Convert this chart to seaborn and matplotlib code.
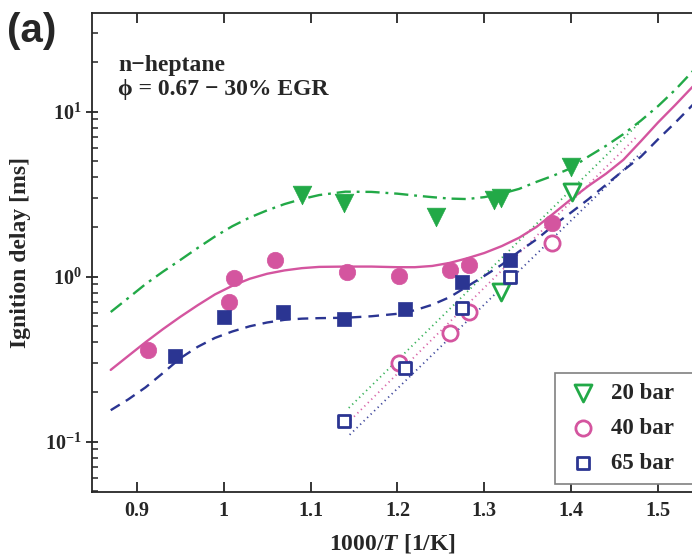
import numpy as np
import pandas as pd
import matplotlib
matplotlib.use("Agg")
import matplotlib.pyplot as plt
import matplotlib.ticker as mticker
import seaborn as sns

# ---- model curves (1000/T, ignition delay in ms) ----
x_model = [0.87, 0.89, 0.91, 0.93, 0.95, 0.97, 0.99, 1.01, 1.03, 1.05, 1.07, 1.09,
           1.11, 1.14, 1.17, 1.20, 1.22, 1.24, 1.26, 1.28, 1.30, 1.32, 1.34, 1.36,
           1.38, 1.40, 1.42, 1.44, 1.46, 1.48, 1.50, 1.52, 1.54]
tau_model_20 = [0.61, 0.74, 0.90, 1.07, 1.26, 1.49, 1.75, 2.02, 2.28, 2.52, 2.75, 2.95,
                3.12, 3.27, 3.26, 3.18, 3.10, 3.03, 2.97, 2.95, 3.03, 3.18, 3.40, 3.75,
                4.10, 4.55, 5.35, 6.20, 7.30, 8.80, 10.8, 13.6, 17.6]
tau_model_40 = [0.272, 0.33, 0.40, 0.48, 0.57, 0.67, 0.78, 0.88, 0.97, 1.04, 1.09, 1.125,
                1.145, 1.15, 1.15, 1.14, 1.14, 1.16, 1.21, 1.29, 1.39, 1.53, 1.72, 2.00,
                2.42, 2.95, 3.55, 4.20, 5.10, 6.60, 8.60, 11.0, 14.2]
tau_model_65 = [0.155, 0.18, 0.213, 0.26, 0.32, 0.375, 0.425, 0.465, 0.50, 0.527, 0.547, 0.556,
                0.56, 0.563, 0.575, 0.595, 0.625, 0.675, 0.75, 0.87, 1.01, 1.18, 1.42, 1.68,
                2.05, 2.45, 2.95, 3.60, 4.40, 5.32, 6.80, 8.60, 11.0]

# ---- Arrhenius fits to the low-temperature data (dotted) ----
x_fit_20 = [1.144, 1.48]
tau_fit_20 = [0.16, 8.7]
x_fit_40 = [1.146, 1.475]
tau_fit_40 = [0.135, 7.0]
x_fit_65 = [1.145, 1.48]
tau_fit_65 = [0.11, 5.6]

# ---- shock tube data (filled symbols) ----
x_st_20 = [1.090, 1.138, 1.244, 1.311, 1.319, 1.400]
tau_st_20 = [3.12, 2.78, 2.30, 2.91, 2.98, 4.63]
x_st_40 = [0.913, 1.006, 1.012, 1.059, 1.142, 1.202, 1.261, 1.282, 1.378]
tau_st_40 = [0.358, 0.704, 0.975, 1.26, 1.07, 1.01, 1.095, 1.17, 2.12]
x_st_65 = [0.944, 1.000, 1.068, 1.138, 1.209, 1.274, 1.329]
tau_st_65 = [0.331, 0.571, 0.612, 0.553, 0.633, 0.93, 1.26]

# ---- rapid compression machine data (open symbols) ----
x_rcm_20 = [1.319, 1.401]
tau_rcm_20 = [0.809, 3.26]
x_rcm_40 = [1.202, 1.261, 1.282, 1.378]
tau_rcm_40 = [0.30, 0.456, 0.612, 1.60]
x_rcm_65 = [1.138, 1.209, 1.274, 1.329]
tau_rcm_65 = [0.134, 0.278, 0.647, 1.00]

labels = ["20 bar", "40 bar", "65 bar"]
colors = ["#22a947", "#d4559f", "#2b3592"]
markers = ["v", "o", "s"]
sizes = [180, 140, 100]
open_sizes = [150, 120, 85]
model_styles = [(0, (6, 2.5, 1.2, 2.5)), "-", (0, (4.5, 3))]

sns.set_style("ticks")
plt.rcParams.update({
    "font.family": ["Liberation Serif", "DejaVu Serif"],
    "font.weight": "bold",
    "mathtext.fontset": "custom",
    "mathtext.rm": "Liberation Serif:bold",
    "mathtext.bf": "Liberation Serif:bold",
    "mathtext.it": "Liberation Serif:italic:bold",
    "mathtext.default": "bf",
    "axes.linewidth": 1.3,
})

fig = plt.figure(figsize=(6.92, 5.55), dpi=100)
ax = fig.add_axes([92.3 / 692, 1 - 492.3 / 555, (692 - 92.3) / 692, (492.3 - 13.3) / 555])

models = [tau_model_20, tau_model_40, tau_model_65]
fits = [(x_fit_20, tau_fit_20), (x_fit_40, tau_fit_40), (x_fit_65, tau_fit_65)]
shock = [(x_st_20, tau_st_20), (x_st_40, tau_st_40), (x_st_65, tau_st_65)]
rcm = [(x_rcm_20, tau_rcm_20), (x_rcm_40, tau_rcm_40), (x_rcm_65, tau_rcm_65)]

for i in range(3):
    c = colors[i]
    dm = pd.DataFrame({"x": x_model, "tau": models[i]})
    sns.lineplot(data=dm, x="x", y="tau", ax=ax, color=c, lw=1.7,
                 linestyle=model_styles[i], sort=False, estimator=None, zorder=2)
    df = pd.DataFrame({"x": fits[i][0], "tau": fits[i][1]})
    sns.lineplot(data=df, x="x", y="tau", ax=ax, color=c, lw=1.3,
                 linestyle=(0, (0.7, 2.0)), sort=False, estimator=None, zorder=1, alpha=0.9)

for i in range(3):
    c = colors[i]
    ds = pd.DataFrame({"x": shock[i][0], "tau": shock[i][1]})
    sns.scatterplot(data=ds, x="x", y="tau", ax=ax, marker=markers[i], s=sizes[i],
                    color=c, edgecolor=c, linewidth=0.5, zorder=4)
    dr = pd.DataFrame({"x": rcm[i][0], "tau": rcm[i][1]})
    sns.scatterplot(data=dr, x="x", y="tau", ax=ax, marker=markers[i], s=open_sizes[i],
                    facecolor="white", edgecolor=c, linewidth=2.0, zorder=5,
                    label=labels[i])

ax.set_yscale("log")
ax.set_xlim(0.8488, 1.539)
ax.set_ylim(0.0493, 39.4)

ax.xaxis.set_major_locator(mticker.FixedLocator([0.9, 1.0, 1.1, 1.2, 1.3, 1.4, 1.5]))
ax.xaxis.set_major_formatter(mticker.FuncFormatter(lambda v, p: f"{v:g}"))
ax.yaxis.set_major_locator(mticker.LogLocator(base=10))
ax.yaxis.set_minor_locator(mticker.LogLocator(base=10, subs=np.arange(2, 10)))
ax.yaxis.set_minor_formatter(mticker.NullFormatter())
ax.yaxis.set_major_formatter(mticker.LogFormatterMathtext())

ax.tick_params(axis="x", which="major", direction="in", length=7, width=1.3,
               top=True, labelsize=14.5, pad=6)
ax.tick_params(axis="y", which="major", direction="inout", length=9, width=1.3,
               labelsize=14.5, pad=3)
ax.tick_params(axis="y", which="minor", direction="in", length=4, width=1.1)
for lab in ax.get_xticklabels() + ax.get_yticklabels():
    lab.set_fontweight("bold")
ax.spines["right"].set_visible(False)

ax.set_xlabel(r"1000/$\mathit{T}$ [1/K]", fontsize=17, fontweight="bold", labelpad=8)
ax.set_ylabel("Ignition delay [ms]", fontsize=17, fontweight="bold", labelpad=10)

# legend box runs past the right edge of the figure
leg = ax.legend(loc="upper left", mode="expand",
                bbox_to_anchor=(555 / 692, 1 - 484 / 555, 160 / 692, 111 / 555),
                bbox_transform=fig.transFigure, borderaxespad=0, fancybox=False,
                framealpha=1, edgecolor="#808080", handlelength=1.5,
                handletextpad=0.5, labelspacing=0.6, borderpad=0.45,
                prop={"family": "Liberation Serif", "weight": "bold", "size": 16.5})
leg.get_frame().set_linewidth(1.2)

fig.text(118 / 692, 1 - 65 / 555, "n\u2212heptane", fontsize=17, fontweight="bold",
         va="center", ha="left")
fig.text(118 / 692, 1 - 89 / 555, "\u03d5 = 0.67 \u2212 30% EGR", fontsize=17,
         fontweight="bold", va="center", ha="left")
fig.text(32 / 692, 1 - 31 / 555, "(a)", fontsize=29, fontweight="bold",
         family=["Liberation Sans", "DejaVu Sans"], va="center", ha="center")

fig.savefig("out.png", dpi=100)
